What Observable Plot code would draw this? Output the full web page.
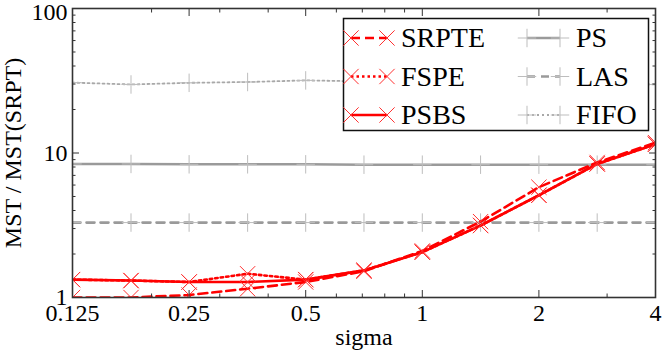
<!DOCTYPE html>
<html><head><meta charset="utf-8">
<script src="https://cdn.jsdelivr.net/npm/d3@7"></script>
<script src="https://cdn.jsdelivr.net/npm/@observablehq/plot@0.6"></script>
</head><body style="margin:0;background:#fff">
<div id="chart" style="position:relative;width:664px;height:354px"></div>
<script>
// ---- data ----
const sigma = [0.125, 0.177, 0.25, 0.354, 0.5, 0.707, 1, 1.414, 2, 2.828, 4];
const srpte = [1.0, 1.0, 1.04, 1.15, 1.28, 1.52, 2.1, 3.35, 5.8, 8.6, 11.8];
const fspe  = [1.33, 1.31, 1.28, 1.46, 1.33, 1.54, 2.06, 3.15, 5.1, 8.4, 11.5];
const psbs  = [1.33, 1.31, 1.28, 1.28, 1.33, 1.54, 2.06, 3.15, 5.1, 8.4, 11.5];
const ps    = [8.4, 8.4, 8.35, 8.35, 8.35, 8.3, 8.3, 8.3, 8.3, 8.3, 8.3];
const las   = [3.3, 3.3, 3.3, 3.3, 3.3, 3.3, 3.3, 3.3, 3.3, 3.3, 3.3];
const fifo  = [30.7, 29.8, 30.6, 31.0, 31.8, 31.3, 30.8, 30.5, 30.4, 30.0, 29.8];
const xMajor = [0.125, 0.25, 0.5, 1, 2, 4];
const xMajorLabels = ["0.125", "0.25", "0.5", "1", "2", "4"];
const xMinor = [0.2, 0.3, 0.4, 0.6, 0.7, 0.8, 0.9, 3];
const yMajor = [1, 10, 100];
const yMajorLabels = ["1", "10", "100"];
const yMinor = [2, 3, 4, 5, 6, 7, 8, 9, 20, 30, 40, 50, 60, 70, 80, 90];
const xLabel = "sigma";
const yLabel = "MST / MST(SRPT)";

const FONT = "Liberation Serif";

const series = [
  {name: "SRPTE", values: srpte, stroke: "#ff0000", dash: "9,5", width: 2.6, symbol: "times", mstroke: "#ff3030", r: 7},
  {name: "FSPE",  values: fspe,  stroke: "#ff0000", dash: "2.5,3", width: 2.6, symbol: "times", mstroke: "#ff3030", r: 7},
  {name: "PSBS",  values: psbs,  stroke: "#ff0000", dash: null, width: 2.6, symbol: "times", mstroke: "#ff3030", r: 7},
  {name: "PS",    values: ps,    stroke: "#9a9a9a", dash: null, width: 2.6, symbol: "plus", mstroke: "#bdbdbd", r: 6},
  {name: "LAS",   values: las,   stroke: "#9a9a9a", dash: "8,6", width: 2.6, symbol: "plus", mstroke: "#bdbdbd", r: 6},
  {name: "FIFO",  values: fifo,  stroke: "#a8a8a8", dash: "2,3", width: 1.8, symbol: "plus", mstroke: "#bdbdbd", r: 6}
];
const toRows = s => sigma.map((x, i) => ({x, y: s.values[i]}));

const axisColor = "#333";
const marks = [];
for (const s of [...series].reverse()) {
  const rows = toRows(s);
  marks.push(Plot.line(rows, {x: "x", y: "y", stroke: s.stroke, strokeWidth: s.width,
    strokeDasharray: s.dash, clip: true}));
  marks.push(Plot.dot(rows, {x: "x", y: "y", symbol: s.symbol, r: s.r, stroke: s.mstroke,
    strokeWidth: 1, fill: "none", clip: true}));
}
const tickMarks = (anchor, ticks, size) => {
  const A = (anchor === "bottom" || anchor === "top") ? Plot.axisX : Plot.axisY;
  return A(ticks, {anchor, tickSize: -size, tickFormat: () => "", label: null, stroke: axisColor, strokeWidth: 1});
};
for (const a of ["bottom", "top"]) {
  marks.push(tickMarks(a, xMajor, 7), tickMarks(a, xMinor, 3.5));
}
for (const a of ["left", "right"]) {
  marks.push(tickMarks(a, yMajor, 7), tickMarks(a, yMinor, 3.5));
}
marks.push(Plot.axisX(xMajor, {anchor: "bottom", tickSize: 0, tickPadding: 6,
  tickFormat: d => xMajorLabels[xMajor.indexOf(d)], label: xLabel, labelAnchor: "center",
  labelArrow: "none", labelOffset: 47, fill: "#000", fontSize: 24, fontFamily: FONT}));
marks.push(Plot.axisY(yMajor.slice(0, 2), {anchor: "left", tickSize: 0, tickPadding: 5,
  tickFormat: d => yMajorLabels[yMajor.indexOf(d)], label: yLabel, labelAnchor: "center",
  labelArrow: "none", labelOffset: 69, fill: "#000", fontSize: 24, fontFamily: FONT}));
marks.push(Plot.axisY(yMajor.slice(2), {anchor: "left", tickSize: 0, tickPadding: 5, dy: 4,
  tickFormat: d => yMajorLabels[yMajor.indexOf(d)], label: null, fill: "#000", fontSize: 24, fontFamily: FONT}));
marks.push(Plot.frame({stroke: axisColor, strokeWidth: 1.6}));

const chart = Plot.plot({
  width: 664, height: 354,
  marginLeft: 72, marginRight: 9, marginTop: 8, marginBottom: 57,
  x: {type: "log", base: 2, domain: [0.125, 4], axis: null},
  y: {type: "log", domain: [1, 100], axis: null},
  style: {fontFamily: FONT, fontSize: "24px", background: "#fff", color: "#000"},
  marks
});
d3.select(chart).selectAll("text").style("font-family", "'Liberation Serif'");
document.getElementById("chart").appendChild(chart);

// ---- legend (overlay: box + samples in SVG, names as HTML) ----
const lg = d3.select("#chart").append("svg")
  .style("position", "absolute").style("left", "0px").style("top", "0px")
  .attr("width", 664).attr("height", 354);
lg.append("rect").attr("x", 343.5).attr("y", 18.5).attr("width", 305).attr("height", 112)
  .attr("fill", "#fff").attr("stroke", "#111").attr("stroke-width", 1.5);
const sym = {times: d3.symbolTimes, plus: d3.symbolPlus};
series.forEach((s, i) => {
  const col = i < 3 ? 0 : 1, row = i % 3;
  const x0 = col === 0 ? 351 : 527, x1 = col === 0 ? 387 : 560;
  const tx = col === 0 ? 401 : 576;
  const cy = 38 + row * 38.5;
  const g = lg.append("g");
  g.append("line").attr("x1", x0).attr("x2", x1).attr("y1", cy).attr("y2", cy)
    .attr("stroke", s.stroke).attr("stroke-width", s.width).attr("stroke-dasharray", s.dash);
  for (const px of [x0, x1]) {
    g.append("path").attr("transform", `translate(${px},${cy})`)
      .attr("d", d3.symbol(sym[s.symbol], s.r * s.r * Math.PI)())
      .attr("fill", "none").attr("stroke", s.mstroke).attr("stroke-width", 1);
  }
  d3.select("#chart").append("div")
    .style("position", "absolute").style("left", tx + "px").style("top", (cy - 17) + "px")
    .style("font", "28px 'Liberation Serif'").style("line-height", "34px").style("color", "#000")
    .text(s.name);
});
</script></body></html>
